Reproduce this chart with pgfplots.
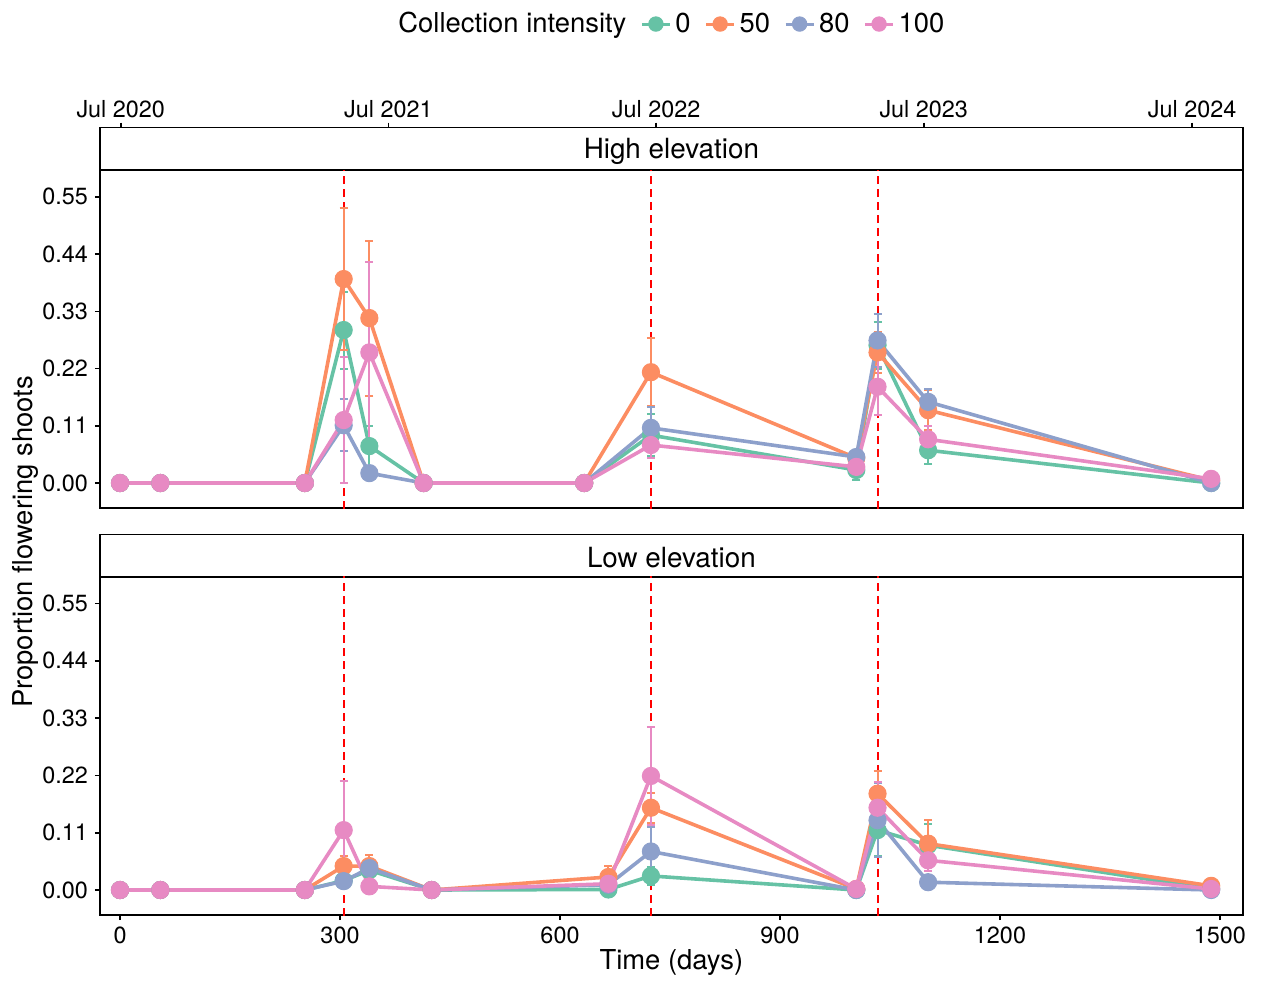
\documentclass[border=0pt]{standalone}
\usepackage{fontspec}
\setmainfont{TeX Gyre Heros}
\usepackage{pgfplots}
\usepackage{pgfplotstable}
\pgfplotsset{compat=1.18}

\definecolor{cA}{HTML}{66C2A5}
\definecolor{cB}{HTML}{FC8D62}
\definecolor{cC}{HTML}{8DA0CB}
\definecolor{cD}{HTML}{E78AC3}
\definecolor{vred}{HTML}{FF0000}

\pgfplotstableread{
day  ya    ea    yb    eb    yc    ec    yd    ed
0    0     0     0     0     0     0     0     0
55   0     0     0     0     0     0     0     0
252  0     0     0     0     0     0     0     0
305  0.294 0.074 0.392 0.136 0.111 0.050 0.121 0.121
340  0.071 0.039 0.317 0.149 0.019 0.010 0.251 0.173
414  0     0     0     0     0     0     0     0
633  0     0     0     0     0     0     0     0
724  0.092 0.040 0.213 0.065 0.106 0.040 0.073 0.025
1004 0.025 0.020 0.048 0.010 0.050 0.010 0.031 0.010
1033 0.265 0.045 0.251 0.040 0.274 0.051 0.185 0.054
1102 0.063 0.027 0.140 0.039 0.156 0.025 0.084 0.025
1488 0     0     0.005 0.005 0     0     0.008 0.006
}\hightab

\pgfplotstableread{
day  ya    ea    yb    eb    yc    ec    yd    ed
0    0     0     0     0     0     0     0     0
55   0     0     0     0     0     0     0     0
252  0     0     0     0     0     0     0     0
305  0.018 0.010 0.046 0.019 0.017 0.008 0.115 0.094
340  0.038 0.010 0.046 0.021 0.042 0.015 0.007 0.005
425  0     0     0     0     0     0     0     0
666  0.001 0.002 0.025 0.021 0.010 0.005 0.012 0.008
724  0.027 0.018 0.158 0.029 0.074 0.047 0.219 0.094
1004 0     0     0.002 0     0     0     0.002 0
1033 0.115 0.050 0.185 0.044 0.134 0.071 0.158 0.050
1102 0.086 0.040 0.089 0.045 0.015 0.005 0.057 0.020
1488 0.002 0     0.008 0.005 0     0     0.002 0
}\lowtab

\pgfplotsset{
  base/.style={
    scale only axis, width=571.35pt,
    xmin=-27.3, xmax=1531,
    axis line style={line width=0.8pt, black},
    tick style={line width=0.8pt, black},
    tick align=outside, major tick length=2.5pt,
    every tick label/.append style={font=\fontsize{11.7}{14}\selectfont},
    /pgf/number format/assume math mode=true,
  },
  panel/.style={
    base, height=168.85pt,
    ymin=-0.048, ymax=0.601,
    ytick={0,0.11,0.22,0.33,0.44,0.55},
    yticklabels={0.00,0.11,0.22,0.33,0.44,0.55},
    ytick pos=left,
  },
  strip/.style={
    base, height=21.3pt, ymin=0, ymax=1, ytick=\empty,
  },
  vl/.style={draw=vred, line width=1pt, dash pattern=on 4pt off 2.5pt, no markers, forget plot},
  ser/.style={
    color=#1, line width=1.8pt, line join=round,
    mark=*, mark size=4.3pt, mark options={solid, fill=#1, draw=#1, line width=0.5pt},
    error bars/.cd, y dir=both, y explicit,
    error bar style={line width=1pt, #1},
    error mark options={rotate=90, line width=1pt, mark size=2pt, #1},
  },
}

\begin{document}
\begin{tikzpicture}
\path[use as bounding box] (0,0) rectangle (631pt,490.5pt);

% top strip with date axis
\begin{axis}[strip, at={(50pt,405.35pt)}, anchor=south west,
  xtick={1,366,731,1096,1462},
  xticklabels={Jul 2020,Jul 2021,Jul 2022,Jul 2023,Jul 2024},
  xtick pos=upper, xticklabel pos=upper,
  xticklabel style={yshift=-1pt}]
\node[font=\fontsize{13.9}{16}\selectfont] at (axis description cs:0.5,0.45) {High elevation};
\end{axis}

% top panel
\begin{axis}[panel, at={(50pt,236.5pt)}, anchor=south west,
  xtick=\empty,
  legend style={at={(0.5,1.433)}, anchor=center, draw=none, fill=none,
    font=\fontsize{13.7}{16}\selectfont, legend columns=-1,
    /tikz/every even column/.append style={column sep=5pt},
    /tikz/every odd column/.append style={column sep=0pt}},
  legend image code/.code={\draw[#1, line width=1.5pt, mark repeat=2, mark phase=2, mark size=3.6pt] plot coordinates {(0pt,0pt) (7pt,0pt) (14pt,0pt)};},
]
\addplot[vl] coordinates {(305.4,-0.1) (305.4,0.7)};
\addplot[vl] coordinates {(724,-0.1) (724,0.7)};
\addplot[vl] coordinates {(1033.4,-0.1) (1033.4,0.7)};
\addlegendimage{empty legend}
\addlegendentry{Collection intensity}
\addplot[ser=cA] table[x=day, y=ya, y error=ea] {\hightab};
\addlegendentry{0}
\addplot[ser=cB] table[x=day, y=yb, y error=eb] {\hightab};
\addlegendentry{50}
\addplot[ser=cC] table[x=day, y=yc, y error=ec] {\hightab};
\addlegendentry{80}
\addplot[ser=cD] table[x=day, y=yd, y error=ed] {\hightab};
\addlegendentry{100}
\end{axis}

% bottom strip
\begin{axis}[strip, at={(50pt,202pt)}, anchor=south west, xtick=\empty]
\node[font=\fontsize{13.9}{16}\selectfont] at (axis description cs:0.5,0.45) {Low elevation};
\end{axis}

% bottom panel
\begin{axis}[panel, at={(50pt,33pt)}, anchor=south west, height=169pt,
  xtick={0,300,600,900,1200,1500},
  xticklabels={0,300,600,900,1200,1500},
  xtick pos=lower,
  xlabel={Time (days)},
  xlabel style={font=\fontsize{13.7}{16}\selectfont, yshift=4pt},
]
\addplot[vl] coordinates {(305.4,-0.1) (305.4,0.7)};
\addplot[vl] coordinates {(724,-0.1) (724,0.7)};
\addplot[vl] coordinates {(1033.4,-0.1) (1033.4,0.7)};
\addplot[ser=cA] table[x=day, y=ya, y error=ea] {\lowtab};
\addplot[ser=cB] table[x=day, y=yb, y error=eb] {\lowtab};
\addplot[ser=cC] table[x=day, y=yc, y error=ec] {\lowtab};
\addplot[ser=cD] table[x=day, y=yd, y error=ed] {\lowtab};
\end{axis}

\node[rotate=90, font=\fontsize{13.7}{16}\selectfont] at (12.5pt,219.5pt) {Proportion flowering shoots};
\end{tikzpicture}
\end{document}
